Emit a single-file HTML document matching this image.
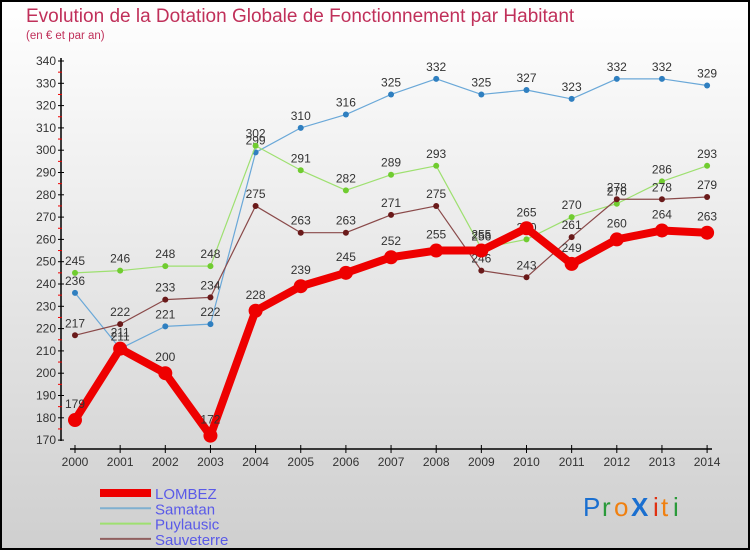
<!DOCTYPE html>
<html><head><meta charset="utf-8"><style>
html,body{margin:0;padding:0}
body{width:750px;height:550px;overflow:hidden;font-family:"Liberation Sans","DejaVu Sans",sans-serif}
</style></head><body>
<svg id="chart" width="750" height="550" xmlns="http://www.w3.org/2000/svg">
<defs><linearGradient id="bg" x1="0" y1="0" x2="0" y2="1"><stop offset="0" stop-color="#ffffff"/><stop offset="1" stop-color="#cfcfcf"/></linearGradient></defs>
<rect x="1" y="1" width="748" height="548" fill="url(#bg)" stroke="#000" stroke-width="2"/>
<text x="26" y="22" font-size="19" fill="#c0305a">Evolution de la Dotation Globale de Fonctionnement par Habitant</text>
<text x="26" y="39" font-size="11.5" fill="#c0305a">(en € et par an)</text>
<g id="axes"></g><g id="series"></g><g id="legend"></g>
<g font-size="26" font-family="'Liberation Sans',sans-serif">
<text x="583" y="516" fill="#1a6fd0">P</text><text x="602" y="516" fill="#2a9a3a">r</text><text x="614" y="516" fill="#f08010">o</text><text x="631" y="516" fill="#1a6fd0" font-weight="bold">X</text><text x="653" y="516" fill="#e03010">i</text><text x="661" y="516" fill="#f08010">t</text><text x="673" y="516" fill="#2a9a3a">i</text>
</g>
</svg>
<script>
const years=[2000,2001,2002,2003,2004,2005,2006,2007,2008,2009,2010,2011,2012,2013,2014];
const lombez=[179,211,200,172,228,239,245,252,255,255,265,249,260,264,263];
const samatan=[236,211,221,222,299,310,316,325,332,325,327,323,332,332,329];
const puylausic=[245,246,248,248,302,291,282,289,293,256,260,270,276,286,293];
const sauveterre=[217,222,233,234,275,263,263,271,275,246,243,261,278,278,279];
const yTicks=[170,180,190,200,210,220,230,240,250,260,270,280,290,300,310,320,330,340];
const NS="http://www.w3.org/2000/svg";
const X=i=>75+i*45.15;
const Y=v=>61+(340-v)*2.23;
function mk(t,a,p){const e=document.createElementNS(NS,t);for(const k in a)e.setAttribute(k,a[k]);p.appendChild(e);return e;}
const ax=document.getElementById('axes');
let l=mk('line',{x1:61,y1:58,x2:61,y2:441,stroke:'#000','stroke-width':1.5},ax);


l=mk('line',{x1:70,y1:449,x2:712,y2:449,stroke:'#000','stroke-width':1.5},ax);


yTicks.forEach(v=>{
 mk('line',{x1:58,x2:64,y1:Y(v),y2:Y(v),stroke:'#000'},ax);
 if(v<340) mk('line',{x1:58,x2:62,y1:Y(v+5),y2:Y(v+5),stroke:'#e00'},ax);
 const t=mk('text',{x:56,y:Y(v)+4,'font-size':12,fill:'#333','text-anchor':'end'},ax);t.textContent=v;
 
 
});
years.forEach((y,i)=>{
 mk('line',{x1:X(i),x2:X(i),y1:445,y2:453,stroke:'#000'},ax);
 const t=mk('text',{x:X(i),y:466,'font-size':12,fill:'#333','text-anchor':'middle'},ax);t.textContent=y;
 
 
});
const sg=document.getElementById('series');
function draw(vals,color,dot,w,r,name){
 const g=mk('g',{},sg);
 
 
 const pts=vals.map((v,i)=>X(i)+','+Y(v)).join(' ');
 mk('polyline',{points:pts,fill:'none',stroke:color,'stroke-width':w,'stroke-linejoin':'round'},g);
 vals.forEach((v,i)=>{
  const c=mk('circle',{cx:X(i),cy:Y(v),r:r,fill:dot},g);
  
  
  const t=mk('text',{x:X(i),y:Y(v)-(r+5),'font-size':12,fill:'#333','text-anchor':'middle'},g);t.textContent=v;
  
  
 });
}
draw(samatan,'#6aa8d8','#2f7fc0',1.2,3,'samatan');
draw(puylausic,'#9ee070','#70cc30',1.2,3,'puylausic');
draw(sauveterre,'#8a4a4a','#6a1a1a',1.2,3,'sauveterre');
draw(lombez,'#ee0000','#ee0000',8,7,'lombez');
const lg=document.getElementById('legend');
[['LOMBEZ','#ee0000',8],['Samatan','#7fb0d0',2],['Puylausic','#9ee070',2],['Sauveterre','#906060',2]].forEach((e,i)=>{
 const y=493+i*15.3;
 const g=mk('g',{},lg);
 
 
 mk('line',{x1:100,x2:151,y1:y,y2:y,stroke:e[1],'stroke-width':e[2]},g);
 const t=mk('text',{x:155,y:y+6,'font-size':15,fill:'#5a5ae8'},g);t.textContent=e[0];
});
</script>
</body></html>
